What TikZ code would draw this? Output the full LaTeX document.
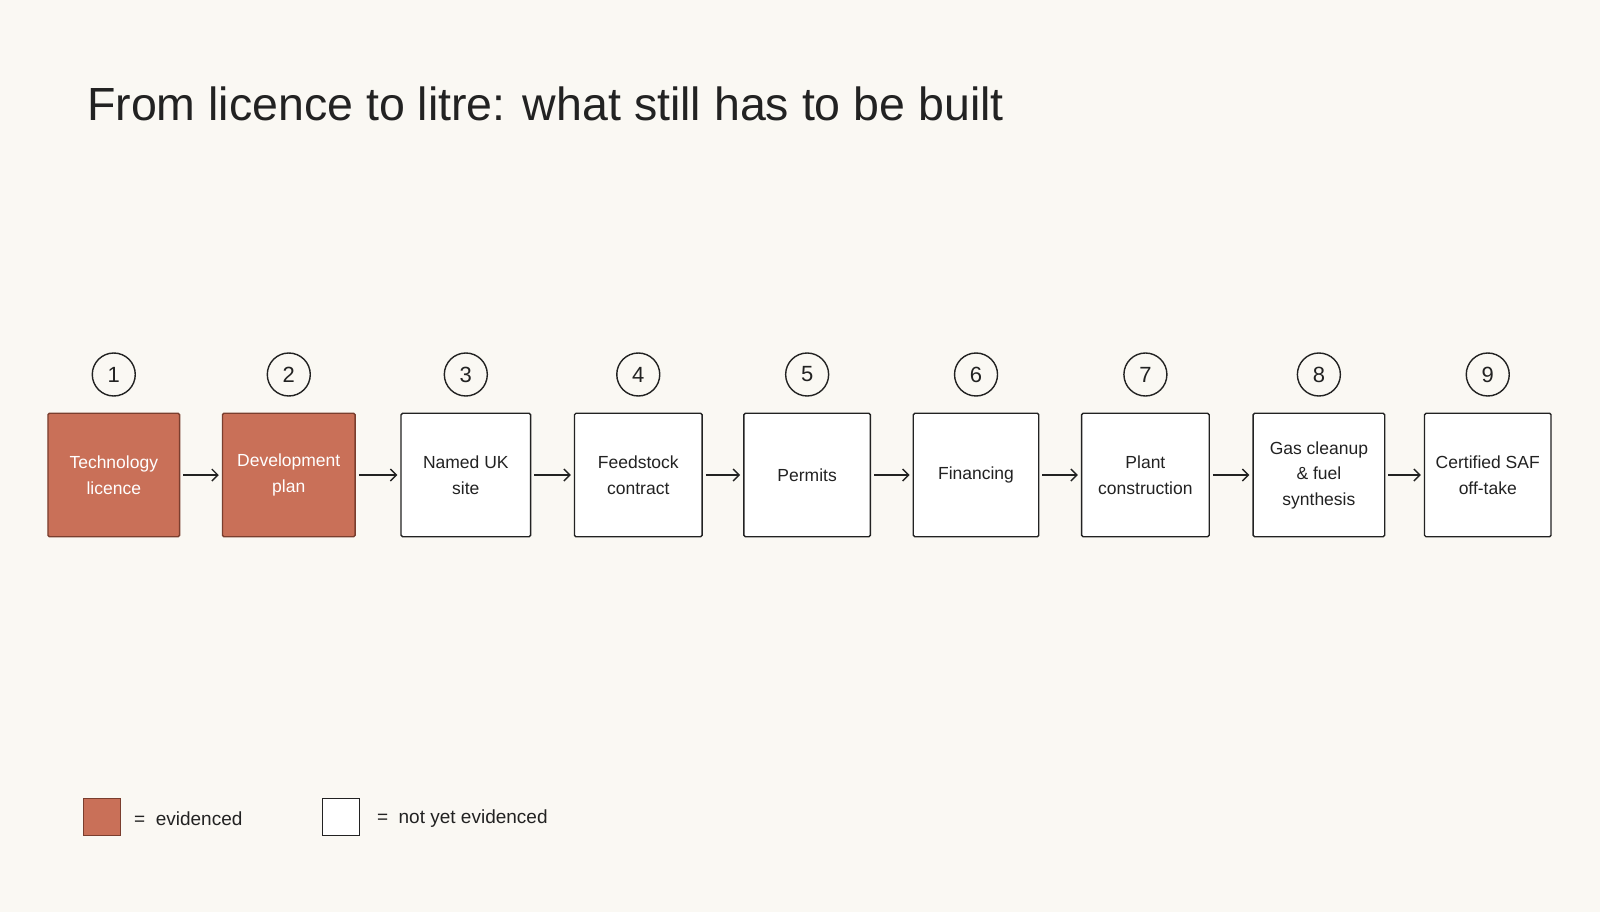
\documentclass[tikz,border=0pt]{standalone}
\usepackage{fontspec}
\setmainfont{Liberation Sans}
\usetikzlibrary{arrows.meta}
\definecolor{bg}{HTML}{FAF8F3}
\definecolor{ev}{HTML}{C97058}
\definecolor{evd}{HTML}{7A3E2E}
\definecolor{ink}{HTML}{222222}
\begin{document}
\begin{tikzpicture}[x=1.0204pt,y=-1.0204pt,
  box/.style={draw=ink,line width=1.4pt,fill=white,rounded corners=1.5pt,minimum height=123.5pt,align=center,font=\fontsize{17.5}{25.5}\selectfont,text=ink},
  evb/.style={box,fill=ev,draw=evd,text=white},
  num/.style={circle,draw=ink,line width=1.4pt,minimum size=43pt,inner sep=0pt,font=\fontsize{22}{22}\selectfont,text=ink},
  arr/.style={-{Straight Barb[length=6pt,width=12pt]},line width=1.4pt,draw=ink,shorten <=3pt,shorten >=3pt}]
\fill[bg] (0,0) rectangle (1568,893.7);
\useasboundingbox (0,0) rectangle (1568,893.7);
\node[anchor=base west,font=\fontsize{46.5}{46.5}\selectfont,text=ink] (title) at (82,118) {From licence to litre: what still has to be built};
\foreach \i/\a/\b/\t/\s in {1/47/176/{Technology\\licence}/evb,2/218/348/{Development\\plan}/evb,3/393/520/{Named UK\\site}/box,4/563/688/{Feedstock\\contract}/box,5/729/853/{Permits}/box,6/895/1018/{Financing}/box,7/1060/1185/{Plant\\construction}/box,8/1228/1357/{Gas cleanup\\\& fuel\\synthesis}/box,9/1396/1520/{Certified SAF\\off-take}/box}{
  \node[\s,minimum width={(\b-\a)*1.0204}] (b\i) at ({(\a+\b)/2},465.5) {\t};
  \node[num] (n\i) at ({(\a+\b)/2},367) {\i};
}
\foreach \i/\j in {1/2,2/3,3/4,4/5,5/6,6/7,7/8,8/9}{\draw[arr] (b\i) -- (b\j);}
\node[draw=evd,fill=ev,line width=1.4pt,minimum size=37pt,inner sep=0pt] (l1) at (100,800.5) {};
\node[anchor=west,font=\fontsize{19}{19}\selectfont,text=ink] (t1) at (128,802) {= \ evidenced};
\node[draw=ink,fill=white,line width=1.4pt,minimum size=37pt,inner sep=0pt] (l2) at (334,800.5) {};
\node[anchor=west,font=\fontsize{19}{19}\selectfont,text=ink] (t2) at (366,802) {= \ not yet evidenced};
\end{tikzpicture}
\end{document}
